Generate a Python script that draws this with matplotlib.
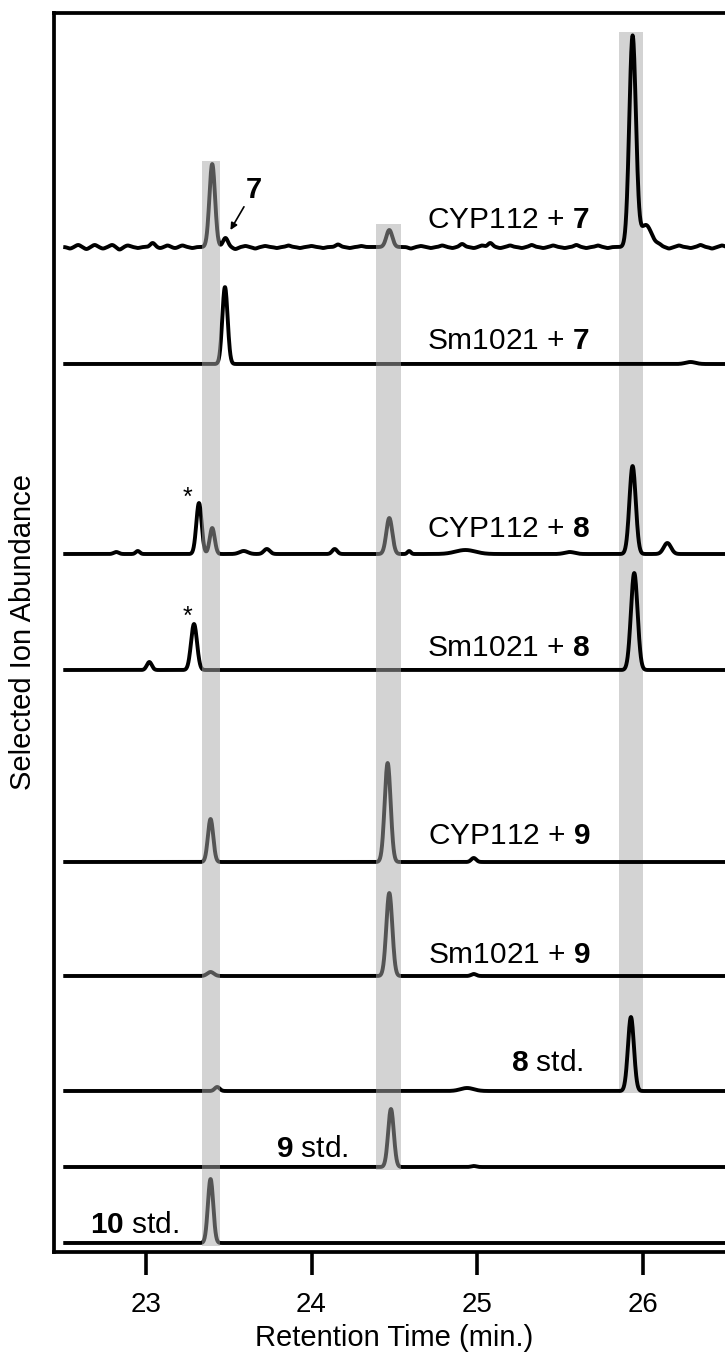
import matplotlib.pyplot as plt
import numpy as np

plt.rcParams['font.family'] = ['Liberation Sans', 'DejaVu Sans']
plt.rcParams['mathtext.fontset'] = 'custom'
plt.rcParams['mathtext.rm'] = 'Liberation Sans'
plt.rcParams['mathtext.bf'] = 'Liberation Sans:bold'

# stacked chromatograms, top to bottom
labels = ["CYP112 + $\\mathbf{7}$", "Sm1021 + $\\mathbf{7}$",
          "CYP112 + $\\mathbf{8}$", "Sm1021 + $\\mathbf{8}$",
          "CYP112 + $\\mathbf{9}$", "Sm1021 + $\\mathbf{9}$",
          "$\\mathbf{8}$ std.", "$\\mathbf{9}$ std.", "$\\mathbf{10}$ std."]
offsets = [1005, 888, 698, 582, 390, 276, 161, 85, 9]

# peaks per trace: (retention time, height, sigma)
peaks = [
    [(23.40, 83, 0.017), (23.48, 9, 0.015), (24.47, 17, 0.018),
     (25.94, 210, 0.020), (26.02, 22, 0.035)],
    [(23.477, 77, 0.016), (26.29, 2, 0.03)],
    [(23.32, 51, 0.016), (23.40, 26, 0.015), (24.47, 36, 0.018),
     (25.94, 88, 0.019), (26.15, 11, 0.022),
     (22.82, 2, 0.015), (22.95, 3, 0.012), (23.59, 3, 0.025), (23.73, 5, 0.018),
     (24.14, 5, 0.015), (24.59, 3, 0.01), (24.93, 4, 0.06), (25.56, 2, 0.03)],
    [(23.02, 8, 0.015), (23.29, 46, 0.018), (25.95, 97, 0.02)],
    [(23.39, 43, 0.016), (24.46, 99, 0.018), (24.98, 4, 0.015)],
    [(23.39, 4, 0.02), (24.47, 83, 0.018), (24.98, 2, 0.015)],
    [(25.93, 74, 0.018), (23.43, 4, 0.015), (24.94, 3, 0.04)],
    [(24.48, 58, 0.017), (24.98, 1, 0.015)],
    [(23.39, 64, 0.016)],
]

# baseline noise of the top trace: (retention time, amplitude)
noise_t = [22.54, 22.59, 22.64, 22.69, 22.74, 22.795, 22.84, 22.89, 22.95, 23.04,
           23.085, 23.13, 23.175, 23.22, 23.28, 23.54, 23.60, 23.66, 23.72, 23.79,
           23.86, 23.93, 24.00, 24.07, 24.16, 24.23, 24.30, 24.60, 24.66, 24.72,
           24.79, 24.85, 24.91, 24.98, 25.03, 25.08, 25.14, 25.20, 25.27, 25.33,
           25.40, 25.46, 25.53, 25.60, 25.66, 25.73, 25.79, 26.10, 26.16, 26.22,
           26.29, 26.35, 26.42, 26.48, 26.55]
noise_a = [-1.5, 2, -2, 2, -1.5, 2, -2.5, 1.5, -1, 4,
           -1, 1.5, -1, 1.5, -1, -2, 1, -1.5, 1, -1,
           1.5, -1, 1, -1, 2.5, -1, 1, -1.5, 1, -1,
           1.5, -1, 3, -1, 1.5, 4, -1, 1.5, -1, 2,
           -1, 1.5, -1, 2, -1, 1.5, -1, 2, -1.5, 1.5,
           -1, 2, -1.5, 1.5, -1]

# shaded retention windows: (start, end, bottom, top)
bands = [(23.34, 23.45, 6, 1091), (24.39, 24.54, 82, 1028), (25.86, 26.00, 159, 1220)]
band_on_top = [True, True, False]

label_x = [24.70, 24.70, 24.70, 24.70, 24.705, 24.705, 25.205, 23.785, 22.66]
label_y = [1024, 903, 715, 596, 408, 289, 181, 95, 19]

fig = plt.figure(figsize=(7.25, 13.55), dpi=100)
ax = fig.add_axes([54 / 725, 103 / 1355, 686 / 725, 1239 / 1355])

t = np.arange(22.50, 26.65, 0.002)
for i, (off, pk) in enumerate(zip(offsets, peaks)):
    y = np.full_like(t, off, dtype=float)
    for rt, h, s in pk:
        y += h * np.exp(-0.5 * ((t - rt) / s) ** 2)
    if i == 0:
        for rt, h in zip(noise_t, noise_a):
            y += h * np.exp(-0.5 * ((t - rt) / 0.014) ** 2)
    ax.plot(t, y, color='black', lw=2.8, zorder=2, solid_capstyle='butt')

for (x0, x1, b, top), over in zip(bands, band_on_top):
    if over:
        ax.fill_between([x0, x1], b, top, color='#a8a8a8', alpha=0.5, lw=0, zorder=3)
    else:
        ax.fill_between([x0, x1], b, top, color='#d3d3d3', lw=0, zorder=1)

for lab, lx, ly in zip(labels, label_x, label_y):
    ax.text(lx, ly, lab, fontsize=21.5, ha='left', va='baseline', zorder=4)

ax.annotate("$\\mathbf{7}$", xy=(23.51, 1022), xytext=(23.60, 1054),
            fontsize=21, ha='left', va='baseline',
            arrowprops=dict(arrowstyle='-|>', color='black', lw=1.2,
                            mutation_scale=10, shrinkA=0, shrinkB=0))
ax.text(23.25, 754, "*", fontsize=18, ha='center', va='center')
ax.text(23.25, 635, "*", fontsize=18, ha='center', va='center')

ax.set_xlim(22.444, 26.589)
ax.set_ylim(0, 1239)
ax.set_xticks([23, 24, 25, 26])
ax.set_yticks([])
ax.tick_params(axis='x', length=16.5, width=2.6, labelsize=20, pad=12)
for sp in ax.spines.values():
    sp.set_linewidth(2.7)

fig.text(394 / 725, 1 - 1338 / 1355, "Retention Time (min.)", fontsize=21,
         ha='center', va='center')
fig.text(23 / 725, 1 - 632 / 1355, "Selected Ion Abundance", fontsize=21,
         ha='center', va='center', rotation=90)

fig.savefig("out.png", dpi=100)
